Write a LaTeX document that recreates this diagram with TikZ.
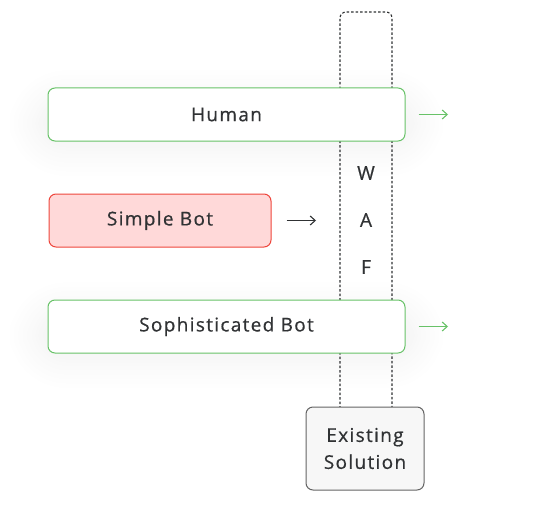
\documentclass[tikz,border=0pt]{standalone}
\usepackage{fontspec}
\setmainfont[LetterSpace=7, FakeBold=0.6]{Open Sans}
\usetikzlibrary{arrows.meta,shadows.blur}
\definecolor{okgreen}{RGB}{104,194,104}
\definecolor{badred}{RGB}{238,70,60}
\definecolor{badfill}{RGB}{255,217,217}
\definecolor{txtgray}{RGB}{48,50,52}
\definecolor{boxgray}{RGB}{247,247,247}
\definecolor{edgegray}{RGB}{100,100,100}

\begin{document}
\begin{tikzpicture}[x=1pt, y=-1pt,
	every node/.style={text=txtgray, font=\fontsize{19}{20}\selectfont},
	box/.style={draw, rounded corners=7pt, line width=1pt, align=center},
	goodbox/.style={box, draw=okgreen, fill=white, minimum width=357pt, minimum height=53pt,
		blur shadow={shadow blur steps=18, shadow xshift=0pt, shadow yshift=-8pt, shadow blur extra rounding=30pt, shadow opacity=5, shadow scale=1.08, shadow blur radius=24pt}},
	badbox/.style={box, draw=badred, fill=badfill, minimum width=222pt, minimum height=53pt},
	oldbox/.style={box, draw=edgegray, fill=boxgray, minimum width=118pt, minimum height=83pt, font=\fontsize{19}{27}\selectfont},
	flow/.style={line width=1.1pt, -{Straight Barb[length=5pt, width=9pt]}},
	wafline/.style={draw=txtgray, line width=1.1pt, dash pattern=on 2.5pt off 2pt, rounded corners=6pt}]
	\useasboundingbox (0, 0) rectangle (556, 508);

	% WAF column (sits behind the boxes)
	\draw[wafline] (340, 440) -- (340, 12) -- (392, 12) -- (392, 440);
	\node (w) at (366, 173) {W};
	\node (a) at (366, 220) {A};
	\node (f) at (366, 267) {F};

	% traffic
	\node[goodbox] (human) at (226.5, 114.5) {Human};
	\node[badbox] (simple) at (160, 220.5) {Simple Bot};
	\node[goodbox] (soph) at (226.5, 326.5) {Sophisticated Bot};
	\node[oldbox] (existing) at (365, 448.5) {Existing\\Solution};

	% arrows
	\coordinate (humanout) at (448, 114.5);
	\coordinate (simpleout) at (316, 220.5);
	\coordinate (sophout) at (448, 326.5);
	\draw[flow, okgreen] ([xshift=13pt]human.east) -- (humanout);
	\draw[flow, txtgray] ([xshift=15pt]simple.east) -- (simpleout);
	\draw[flow, okgreen] ([xshift=13pt]soph.east) -- (sophout);
\end{tikzpicture}
\end{document}
